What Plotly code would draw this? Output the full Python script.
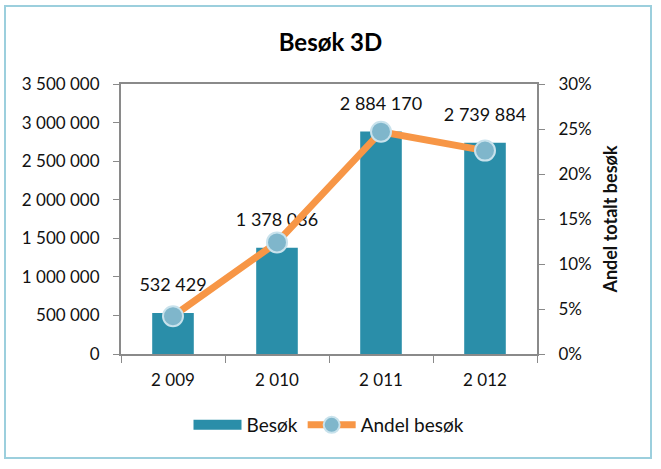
import plotly.graph_objects as go

years = ["2 009", "2 010", "2 011", "2 012"]
besok = [532429, 1378036, 2884170, 2739884]
andel = [0.042, 0.124, 0.247, 0.226]
left_ticks = [0, 500000, 1000000, 1500000, 2000000, 2500000, 3000000, 3500000]
right_ticks = [0, 0.05, 0.10, 0.15, 0.20, 0.25, 0.30]

FONT = "Lato, 'Open Sans', sans-serif"
GRAY = "#8a8a8a"
BAR = "#2a8ea9"

fig = go.Figure()
fig.add_trace(go.Bar(
    x=years, y=besok, name="Besøk", showlegend=False,
    marker=dict(color=BAR, line=dict(width=0)),
    hoverinfo="x+y",
))
# data labels of the bars, placed above each bar top
fig.add_trace(go.Scatter(
    x=years, y=besok, mode="markers+text", showlegend=False, hoverinfo="skip",
    marker=dict(size=26, opacity=0),
    text=[f"{v:,}".replace(",", " ") for v in besok], textposition="top center",
    textfont=dict(size=18, color="#111", family=FONT),
    cliponaxis=False,
))
# legend proxy for the bar series (wide swatch as in the reference)
fig.add_trace(go.Scatter(
    x=[None], y=[None], name="Besøk", mode="lines",
    line=dict(color=BAR, width=13), showlegend=True,
))
fig.add_trace(go.Scatter(
    x=years, y=andel, name="Andel besøk", yaxis="y2",
    mode="lines+markers",
    line=dict(color="#f79646", width=7),
    marker=dict(size=20, color="#7fb6cb", line=dict(color="#c8e2ec", width=2)),
    cliponaxis=False,
))

# outer light-blue chart border
L, R, T, B = 121, 124, 84, 115
W, H = 661 - L - R, 469 - T - B
def px(x): return (x - L) / W
def py(y): return (469 - B - y) / H
fig.add_shape(type="rect", xref="paper", yref="paper",
              x0=px(5), x1=px(651), y0=py(458), y1=py(6),
              line=dict(color="#9ccfdd", width=2), layer="below")

fig.update_layout(
    width=661, height=469,
    margin=dict(l=L, r=R, t=T, b=B),
    paper_bgcolor="white", plot_bgcolor="white",
    separators=", ",
    font=dict(family=FONT, size=17, color="#111"),
    title=dict(text="<b>Besøk 3D</b>", x=0.5, xanchor="center", y=1 - 43/469, yanchor="middle",
               font=dict(size=24, family=FONT, color="#000")),
    bargap=0.6,
    showlegend=True,
    legend=dict(orientation="h", x=0.5, xanchor="center", y=py(425), yanchor="middle",
                font=dict(size=19, family=FONT), tracegroupgap=0, itemwidth=48),
    xaxis=dict(type="category", showline=True, linecolor=GRAY, linewidth=2, mirror=True,
               ticks="outside", tickson="boundaries", ticklen=7, tickcolor=GRAY, tickwidth=1,
               ticklabelstandoff=10,
               showgrid=False, tickfont=dict(size=17)),
    yaxis=dict(range=[0, 3500000], tickvals=left_ticks, tickformat=",d",
               showline=True, linecolor=GRAY, linewidth=2, mirror=True,
               ticks="outside", ticklen=6, tickcolor=GRAY, showgrid=False, zeroline=False,
               ticklabelstandoff=10, tickfont=dict(size=17)),
    yaxis2=dict(range=[0, 0.30], tickvals=right_ticks, tickformat=".0%", overlaying="y", side="right",
                showline=True, linecolor=GRAY, linewidth=2,
                ticks="outside", ticklen=6, tickcolor=GRAY, showgrid=False, zeroline=False,
                ticklabelstandoff=10, tickfont=dict(size=17),
                title=dict(text="<b>Andel totalt besøk</b>", font=dict(size=18), standoff=14)),
)

fig.write_html("out.html")
